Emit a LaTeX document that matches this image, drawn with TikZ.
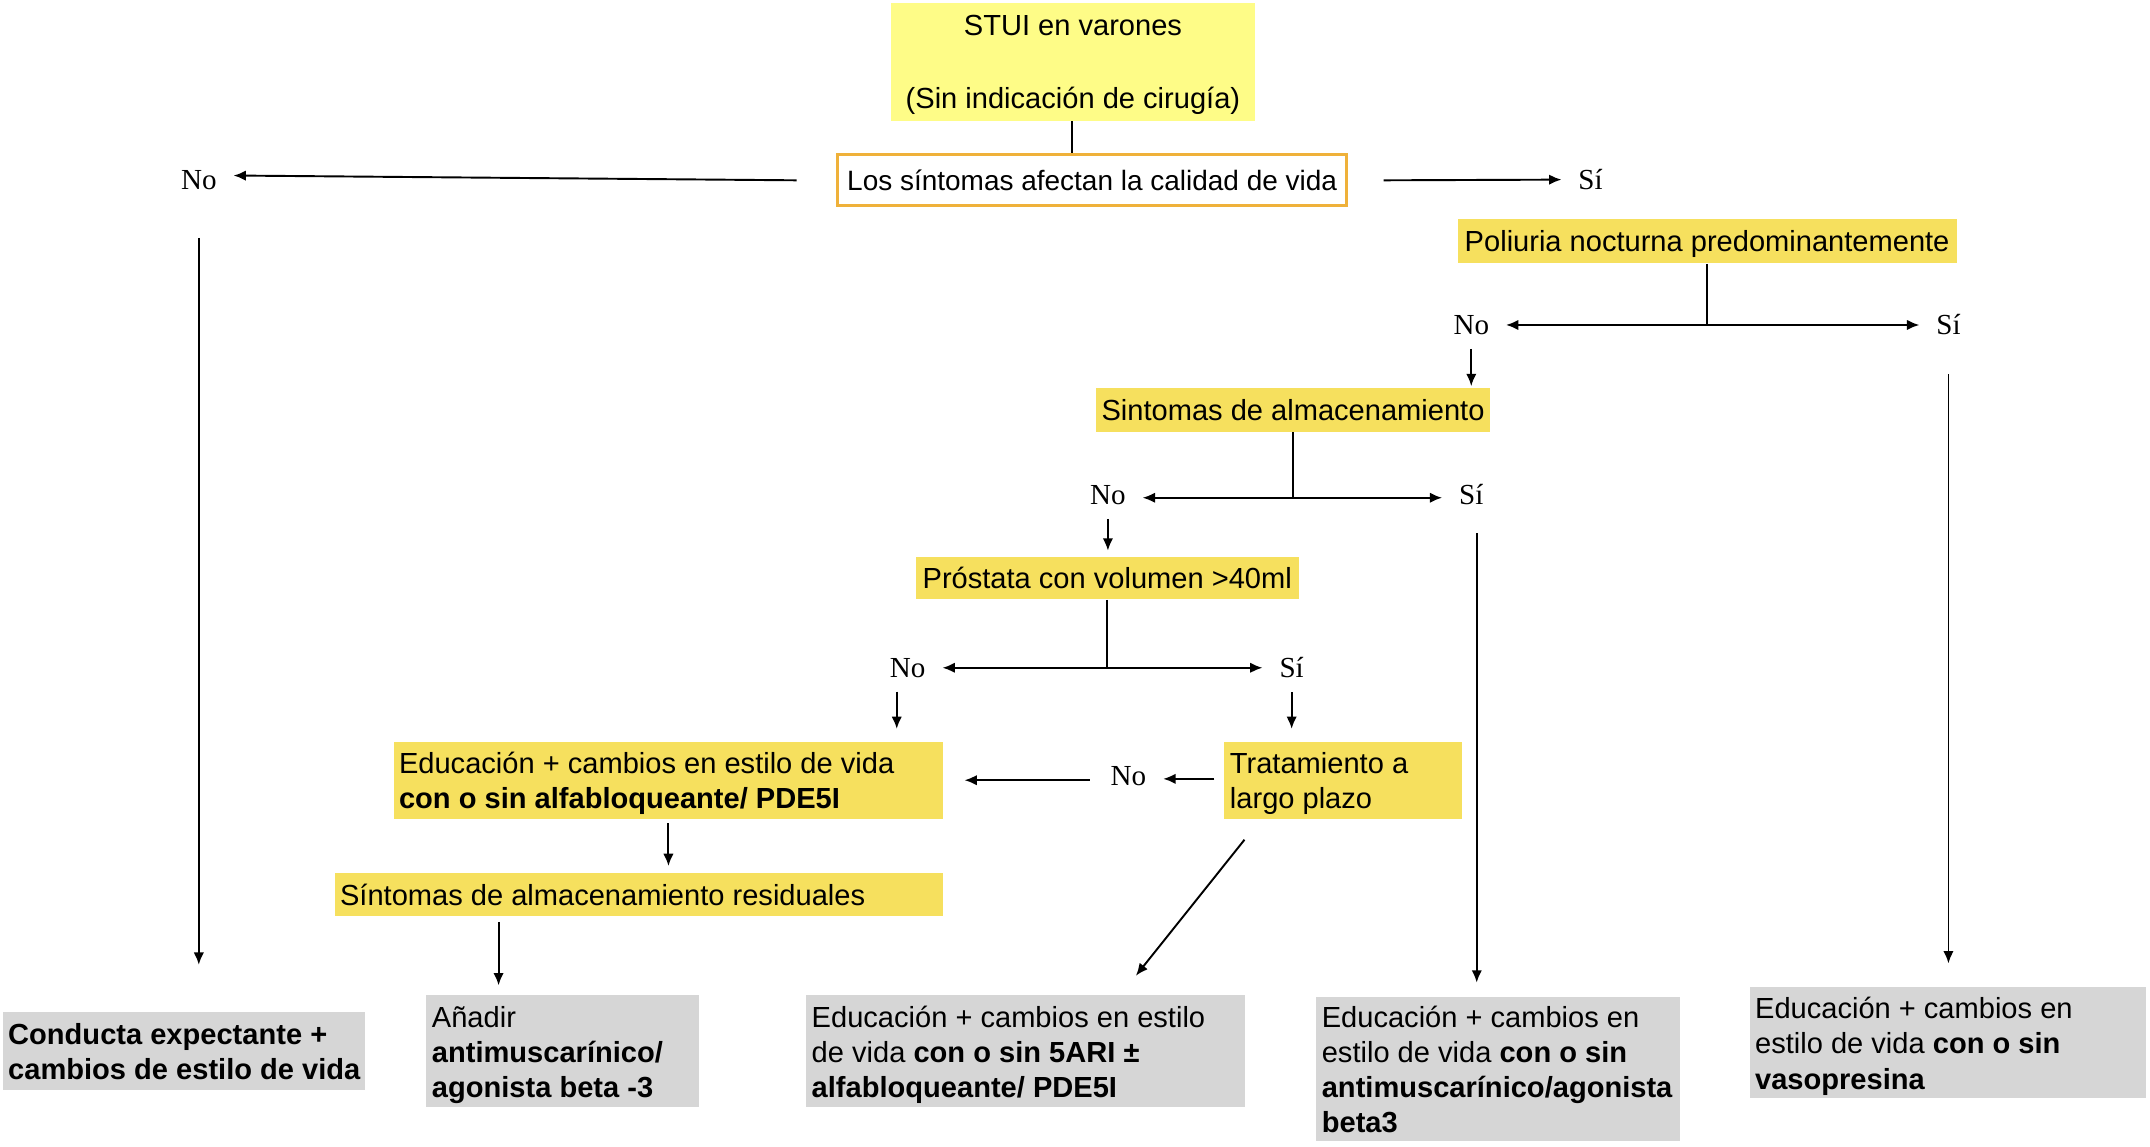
\documentclass[tikz,border=0pt]{standalone}
\usepackage{fontspec}
\setmainfont{Liberation Sans}
\newfontfamily\tmsfont{Liberation Serif}
\usetikzlibrary{arrows.meta,calc}
\definecolor{stuiY}{HTML}{FEFC87}
\definecolor{boxY}{HTML}{F6E05E}
\definecolor{boxG}{HTML}{D6D6D6}
\definecolor{boxO}{HTML}{EFB13A}
\newcommand\lbox[2]{\raisebox{-1.5pt}[\height][\depth]{\makebox[#1][l]{\begin{tabular}{@{}l@{}}#2\end{tabular}}}}
\begin{document}
\begin{tikzpicture}[x=0.5pt,y=-0.5pt,
  arr/.style={-{Latex[length=4.5pt,width=3.8pt]}, line width=0.7pt},
  ln/.style={line width=0.7pt},
  base/.style={rectangle, inner sep=0pt, font=\fontsize{10.6}{12.8}\selectfont},
  one/.style={text depth=0pt},
  ybox/.style={base, fill=boxY},
  gbox/.style={base, fill=boxG},
  lbl/.style={font=\tmsfont\fontsize{10.6}{12.8}\selectfont, inner xsep=6pt, inner ysep=5pt},
]
\useasboundingbox (0,0) rectangle (1568,836);

% boxes
\node[base, fill=stuiY, minimum width=132.5pt, minimum height=43pt, align=center, one] (stui) at (782.5,45)
  {STUI en varones\\[13.7pt](Sin indicación de cirugía)};
\node[base, one, fill=white, draw=boxO, line width=1.1pt, minimum width=185.5pt, minimum height=18.5pt,
  font=\fontsize{10.2}{12.4}\selectfont] (q1) at (796.5,131.5)
  {Los síntomas afectan la calidad de vida};
\node[ybox, one, minimum width=182pt, minimum height=16pt] (poli) at (1245,176) {Poliuria nocturna predominantemente};
\node[ybox, one, minimum width=144pt, minimum height=16pt] (alm) at (943,299) {Sintomas de almacenamiento};
\node[ybox, one, minimum width=139.5pt, minimum height=15.5pt] (pros) at (807.5,421.5) {Próstata con volumen >40ml};
\node[ybox, minimum width=200.5pt, minimum height=28pt] (edu1) at (487.5,569)
  {\lbox{196.5pt}{Educación + cambios en estilo de vida\\\textbf{con o sin alfabloqueante/ PDE5I}}};
\node[ybox, minimum width=86.5pt, minimum height=28pt] (trat) at (979.5,569)
  {\lbox{82.5pt}{Tratamiento a\\largo plazo}};
\node[ybox, minimum width=222pt, minimum height=15.5pt] (resid) at (466,652.5)
  {\lbox{218pt}{Síntomas de almacenamiento residuales}};
\node[gbox, minimum width=132pt, minimum height=28.5pt] (cond) at (134,766.5)
  {\lbox{128pt}{\textbf{Conducta expectante +}\\\textbf{cambios de estilo de vida}}};
\node[gbox, minimum width=99.5pt, minimum height=40.5pt] (anad) at (410.5,766.5)
  {\lbox{95.5pt}{Añadir\\\textbf{antimuscarínico/}\\\textbf{agonista beta -3}}};
\node[gbox, minimum width=160pt, minimum height=40.5pt] (edu5) at (748,766.5)
  {\lbox{156pt}{Educación + cambios en estilo\\de vida \textbf{con o sin 5ARI ±}\\\textbf{alfabloqueante/ PDE5I}}};
\node[gbox, minimum width=132.5pt, minimum height=52.5pt] (eduam) at (1092.5,779.5)
  {\lbox{128.5pt}{Educación + cambios en\\estilo de vida \textbf{con o sin}\\\textbf{antimuscarínico/agonista}\\\textbf{beta3}}};
\node[gbox, minimum width=144.5pt, minimum height=40.5pt] (eduvp) at (1420.5,760.5)
  {\lbox{140.5pt}{Educación + cambios en\\estilo de vida \textbf{con o sin}\\\textbf{vasopresina}}};

% labels
\node[lbl] (noL) at (145,131) {No};
\node[lbl] (siR) at (1160,131) {Sí};
\node[lbl] (no2) at (1073,237) {No};
\node[lbl] (si2) at (1421,237) {Sí};
\node[lbl] (no3) at (808,361) {No};
\node[lbl] (si3) at (1073,361) {Sí};
\node[lbl] (no4) at (662,487) {No};
\node[lbl] (si4) at (942,487) {Sí};
\node[lbl] (no5) at (823,566) {No};

% connectors
\draw[ln] ($(stui.south)+(-0.5,0)$) -- ($(stui.south |- q1.north)+(-0.5,0)$);
\draw[arr] ($(q1.west)+(-29,0)$) -- ($(noL.east)+(0,-3)$);
\draw[arr] ($(q1.east)+(26,0)$) -- (siR.west);

\coordinate (j2) at (poli.south |- no2);
\draw[ln] (poli.south) -- (j2);
\draw[arr] (j2) -- (no2.east);
\draw[arr] (j2) -- (si2.west);
\draw[arr] (no2.south) -- ($(no2.south |- alm.north)+(0,-1)$);

\coordinate (j3) at ($(alm.south |- no3)+(0,2)$);
\draw[ln] (alm.south) -- (j3);
\draw[arr] (j3) -- ($(no3.east)+(0,2)$);
\draw[arr] (j3) -- ($(si3.west)+(0,2)$);
\draw[arr] (no3.south) -- ($(no3.south |- pros.north)+(0,-4)$);

\coordinate (j4) at (pros.south |- no4);
\draw[ln] (pros.south) -- (j4);
\draw[arr] (j4) -- (no4.east);
\draw[arr] (j4) -- (si4.west);
\draw[arr] ($(no4.south)+(-8,0)$) -- ($(no4.south |- edu1.north)+(-8,-9)$);
\draw[arr] (si4.south) -- ($(si4.south |- trat.north)+(0,-9)$);

\draw[arr] ($(trat.west)+(-7,-1)$) -- ($(no5.east)+(0,2)$);
\draw[arr] ($(no5.west)+(-3,3)$) -- ($(edu1.east)+(15,0)$);
\draw[arr] ($(edu1.south)+(0,3)$) -- ($(edu1.south |- resid.north)+(0,-5)$);

\coordinate (r1) at ($(resid.south west)+(120,4)$);
\draw[arr] (r1) -- ($(r1 |- anad.north)+(0,-7)$);

\draw[arr] ($(noL.south)+(0,25)$) -- ($(noL.south |- cond.north)+(0,-34)$);
\draw[arr] ($(trat.south west)+(15,15)$) -- ($(edu5.north east)+(-80,-14)$);
\draw[arr] ($(si3.south)+(4,10)$) -- ($(si3.south |- eduam.north)+(4,-10)$);
\draw[arr] ($(si2.south)+(0,18)$) -- ($(si2.south |- eduvp.north)+(0,-17)$);
\end{tikzpicture}
\end{document}
